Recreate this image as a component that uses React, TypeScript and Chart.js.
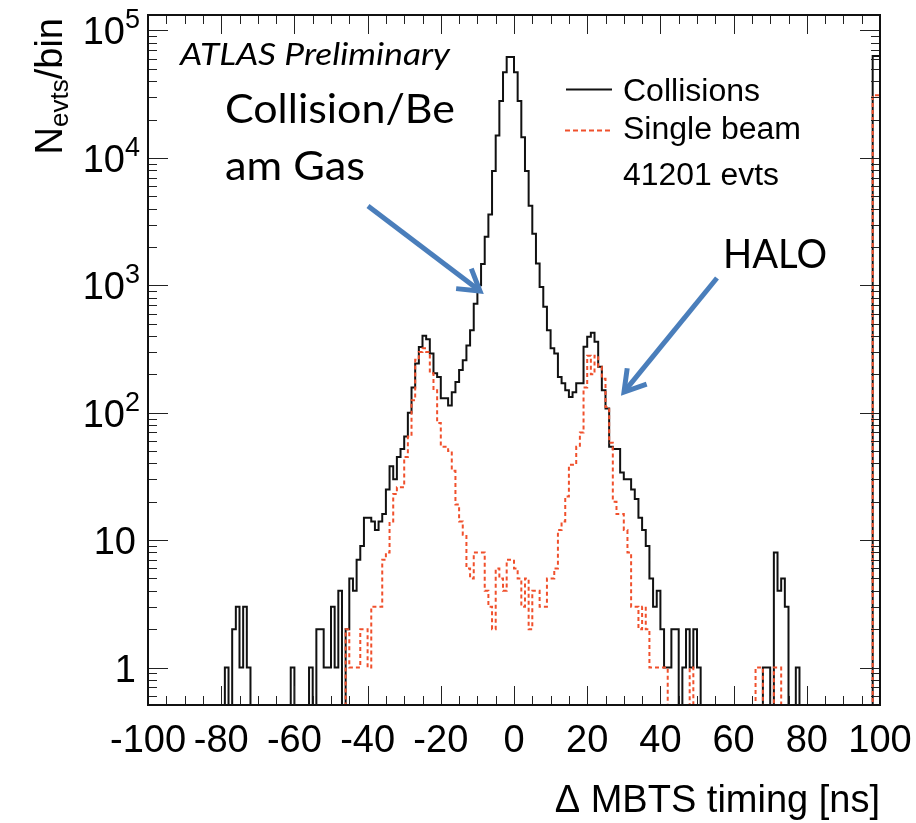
import { useEffect, useRef } from 'react';
import { Chart, registerables } from 'chart.js';

Chart.register(...registerables);

// ---------- data ----------
const X_MIN = -100;
const X_MAX = 100;
const BIN_WIDTH = 1; // ns
const Y_MIN = 0.508;
const Y_MAX = 1.323e5;

// Collisions: one value per 1 ns bin, from -100 ns to +100 ns
const collisions: number[] = [
  41000, 0, 0, 0, 0, 0, 0, 0, 0, 0, // -100..-91
  0, 0, 0, 0, 0, 0, 0, 0, 0, 0, // -90..-81
  0, 0, 1, 0, 2, 3, 1, 3, 1, 0, // -80..-71
  0, 0, 0, 0, 0, 0, 0, 0, 0, 0, // -70..-61
  1, 0, 0, 0, 0, 1, 0, 2, 2, 1, // -60..-51
  1, 3, 1, 4, 0, 2, 5, 4, 7, 9, // -50..-41
  15, 15, 14, 12, 14, 16, 25, 38, 30, 45, // -40..-31
  52, 65, 100, 158, 243, 328, 401, 377, 292, 204, // -30..-21
  191, 130, 130, 114, 145, 174, 216, 258, 337, 443, // -20..-11
  718, 1000, 1470, 2410, 3600, 7900, 15000, 28000, 47000, 62000, // -10..-1
  62000, 47000, 28000, 14500, 7900, 4220, 2540, 1480, 970, 680, // 0..9
  443, 320, 292, 191, 170, 150, 133, 145, 170, 170, // 10..19
  330, 394, 424, 360, 229, 150, 108, 54, 52, 52, // 20..29
  34, 30, 30, 25, 21, 15, 12, 9, 5, 3, // 30..39
  4, 2, 1, 1, 2, 2, 0, 1, 2, 1, // 40..49
  2, 1, 0, 0, 0, 0, 0, 0, 0, 0, // 50..59
  0, 0, 0, 0, 0, 0, 0, 0, 0, 1, // 60..69
  1, 0, 8, 4, 5, 3, 0, 0, 1, 0, // 70..79
  0, 0, 0, 0, 0, 0, 0, 0, 0, 0, // 80..89
  0, 0, 0, 0, 0, 0, 0, 0, 0, 63000, // 90..99
];

// Single beam: same binning
const singleBeam: number[] = [
  5900, 0, 0, 0, 0, 0, 0, 0, 0, 0, // -100..-91
  0, 0, 0, 0, 0, 0, 0, 0, 0, 0, // -90..-81
  0, 0, 0, 0, 0, 0, 0, 0, 0, 0, // -80..-71
  0, 0, 0, 0, 0, 0, 0, 0, 0, 0, // -70..-61
  0, 0, 0, 0, 0, 0, 0, 0, 0, 0, // -60..-51
  0, 0, 0, 0, 0, 2, 1, 1, 1, 2, // -50..-41
  2, 1, 3, 3, 3, 7, 8, 14, 23, 26, // -40..-31
  26, 45, 65, 125, 260, 300, 320, 300, 204, 150, // -30..-21
  83, 54, 54, 50, 35, 19, 14, 11, 6, 5, // -20..-11
  8, 8, 8, 4, 3, 2, 6, 5, 4, 7, // -10..-1
  7, 6, 5, 3, 5, 2, 4, 4, 3, 3, // 0..9
  5, 5, 6, 12, 14, 22, 39, 39, 54, 70, // 10..19
  158, 280, 200, 280, 229, 185, 111, 58, 20, 16, // 20..29
  16, 12, 8, 3, 3, 2, 3, 2, 1, 1, // 30..39
  1, 1, 1, 0, 0, 0, 0, 0, 0, 1, // 40..49
  0, 0, 0, 0, 0, 0, 0, 0, 0, 0, // 50..59
  0, 0, 0, 0, 0, 0, 0, 1, 1, 0, // 60..69
  0, 0, 1, 1, 0, 0, 0, 0, 0, 0, // 70..79
  0, 0, 0, 0, 0, 0, 0, 0, 0, 0, // 80..89
  0, 0, 0, 0, 0, 0, 0, 0, 0, 31000, // 90..99
];

const xTickValues = [-100, -80, -60, -40, -20, 0, 20, 40, 60, 80, 100];
const yTickExponents = [0, 1, 2, 3, 4, 5];
const seriesNames = ['Collisions', 'Single beam'];
const eventNote = '41201 evts';
const xTitle = '\u0394 MBTS timing [ns]';
const yTitleMain = 'N';
const yTitleSub = 'evts';
const yTitleTail = '/bin';
const atlasLabel = 'ATLAS Preliminary';
const noteBeamGas = ['Collision/Be', 'am Gas'];
const noteHalo = 'HALO';

// ---------- styles ----------
const BLACK = '#111111';
const RED = '#f0502c';
const BLUE = '#4a7ebb';
const ROOT_FONT = '"Liberation Sans", Arial, Helvetica, sans-serif';
const PPT_FONT = 'Lato, "Open Sans", sans-serif';

function toSteps(vals: number[]) {
  const pts = vals.map((v, i) => ({ x: X_MIN + i * BIN_WIDTH, y: v > 0 ? v : Y_MIN }));
  pts.push({ x: X_MAX, y: pts[pts.length - 1].y });
  return pts;
}

function fitText(ctx: CanvasRenderingContext2D, text: string, x: number, y: number, font: string, width: number) {
  ctx.save();
  ctx.font = font;
  const w = ctx.measureText(text).width;
  ctx.translate(x, y);
  ctx.scale(width / w, 1);
  ctx.textAlign = 'left';
  ctx.textBaseline = 'alphabetic';
  ctx.fillText(text, 0, 0);
  ctx.restore();
}

function drawArrow(ctx: CanvasRenderingContext2D, x1: number, y1: number, x2: number, y2: number) {
  const ang = Math.atan2(y2 - y1, x2 - x1);
  const head = 24;
  const spread = 0.55;
  ctx.save();
  ctx.strokeStyle = BLUE;
  ctx.lineWidth = 5;
  ctx.lineCap = 'butt';
  ctx.lineJoin = 'miter';
  ctx.beginPath();
  ctx.moveTo(x1, y1);
  ctx.lineTo(x2 - Math.cos(ang) * 2, y2 - Math.sin(ang) * 2);
  ctx.stroke();
  ctx.beginPath();
  ctx.moveTo(x2 - head * Math.cos(ang - spread), y2 - head * Math.sin(ang - spread));
  ctx.lineTo(x2, y2);
  ctx.lineTo(x2 - head * Math.cos(ang + spread), y2 - head * Math.sin(ang + spread));
  ctx.stroke();
  ctx.restore();
}

const decorPlugin = {
  id: 'decor',
  afterDatasetsDraw(chart: any) {
    const ctx: CanvasRenderingContext2D = chart.ctx;
    const a = chart.chartArea;
    const xs = chart.scales.x;
    const ys = chart.scales.y;
    ctx.save();

    // ticks (inside, all four sides)
    ctx.strokeStyle = '#222';
    ctx.lineWidth = 1;
    ctx.beginPath();
    for (let v = X_MIN; v <= X_MAX; v += 5) {
      const px = Math.round(xs.getPixelForValue(v)) + 0.5;
      const len = v % 20 === 0 ? 19 : 9;
      ctx.moveTo(px, a.bottom);
      ctx.lineTo(px, a.bottom - len);
      ctx.moveTo(px, a.top);
      ctx.lineTo(px, a.top + len);
    }
    for (let e = -1; e <= 5; e++) {
      for (let m = 1; m <= 9; m++) {
        const v = m * Math.pow(10, e);
        if (v < Y_MIN || v > Y_MAX) continue;
        const py = Math.round(ys.getPixelForValue(v)) + 0.5;
        const len = m === 1 ? 20 : 9;
        ctx.moveTo(a.left, py);
        ctx.lineTo(a.left + len, py);
        ctx.moveTo(a.right, py);
        ctx.lineTo(a.right - len, py);
      }
    }
    ctx.stroke();

    // frame
    ctx.strokeStyle = BLACK;
    ctx.lineWidth = 2;
    ctx.strokeRect(a.left, a.top, a.right - a.left, a.bottom - a.top);

    // x tick labels
    ctx.fillStyle = '#000';
    ctx.font = `38px ${ROOT_FONT}`;
    ctx.textAlign = 'center';
    ctx.textBaseline = 'alphabetic';
    for (const v of xTickValues) {
      ctx.fillText(String(v), xs.getPixelForValue(v), 752);
    }

    // y tick labels
    for (const e of yTickExponents) {
      const py = ys.getPixelForValue(Math.pow(10, e));
      const xr = a.left - 12;
      ctx.textAlign = 'right';
      if (e === 0) {
        ctx.font = `38px ${ROOT_FONT}`;
        ctx.fillText('1', xr, py + 14);
      } else if (e === 1) {
        ctx.font = `38px ${ROOT_FONT}`;
        ctx.fillText('10', xr, py + 14);
      } else {
        ctx.font = `27px ${ROOT_FONT}`;
        const es = String(e);
        const ew = ctx.measureText(es).width;
        ctx.fillText(es, xr + 4, py - 2);
        ctx.font = `38px ${ROOT_FONT}`;
        ctx.fillText('10', xr + 4 - ew, py + 14);
      }
    }

    // axis titles
    ctx.textAlign = 'right';
    ctx.font = `38px ${ROOT_FONT}`;
    ctx.fillText(xTitle, a.right, 812);

    ctx.save();
    ctx.translate(62, 18);
    ctx.rotate(-Math.PI / 2);
    ctx.textAlign = 'left';
    ctx.font = `38px ${ROOT_FONT}`;
    const wN = ctx.measureText(yTitleMain).width;
    ctx.font = `26px ${ROOT_FONT}`;
    const wS = ctx.measureText(yTitleSub).width;
    ctx.font = `38px ${ROOT_FONT}`;
    const wT = ctx.measureText(yTitleTail).width;
    const total = wN + wS + wT;
    let cx = -total;
    ctx.fillText(yTitleMain, cx, 0);
    cx += wN;
    ctx.font = `26px ${ROOT_FONT}`;
    ctx.fillText(yTitleSub, cx, 6);
    cx += wS;
    ctx.font = `38px ${ROOT_FONT}`;
    ctx.fillText(yTitleTail, cx, 0);
    ctx.restore();

    // legend
    ctx.strokeStyle = BLACK;
    ctx.lineWidth = 2;
    ctx.setLineDash([]);
    ctx.beginPath();
    ctx.moveTo(566, 89.5);
    ctx.lineTo(612, 89.5);
    ctx.stroke();
    ctx.strokeStyle = RED;
    ctx.setLineDash([5, 3]);
    ctx.beginPath();
    ctx.moveTo(565, 130.5);
    ctx.lineTo(611, 130.5);
    ctx.stroke();
    ctx.setLineDash([]);
    ctx.fillStyle = '#000';
    fitText(ctx, seriesNames[0], 623, 101, `31px ${ROOT_FONT}`, 137);
    fitText(ctx, seriesNames[1], 623, 139, `31px ${ROOT_FONT}`, 178);
    fitText(ctx, eventNote, 623, 185, `31px ${ROOT_FONT}`, 156);

    // presentation annotations
    fitText(ctx, atlasLabel, 180, 65, `italic 31px ${PPT_FONT}`, 270);
    fitText(ctx, noteBeamGas[0], 225, 123, `40px ${PPT_FONT}`, 230);
    fitText(ctx, noteBeamGas[1], 225, 180, `40px ${PPT_FONT}`, 140);
    fitText(ctx, noteHalo, 723, 268, `41px ${PPT_FONT}`, 104);

    drawArrow(ctx, 368, 206, 480, 291);
    drawArrow(ctx, 717, 278, 624, 392);

    ctx.restore();
  },
};

export default function App() {
  const canvasRef = useRef<HTMLCanvasElement | null>(null);

  useEffect(() => {
    const canvas = canvasRef.current;
    if (!canvas) return;
    const chart = new Chart(canvas, {
      type: 'line',
      data: {
        datasets: [
          {
            label: seriesNames[1],
            data: toSteps(singleBeam),
            borderColor: RED,
            borderWidth: 2,
            borderDash: [4, 3],
            stepped: 'after',
            pointRadius: 0,
            fill: false,
            order: 0,
          },
          {
            label: seriesNames[0],
            data: toSteps(collisions),
            borderColor: BLACK,
            borderWidth: 2,
            stepped: 'after',
            pointRadius: 0,
            fill: false,
            order: 1,
          },
        ],
      },
      options: {
        animation: false,
        responsive: false,
        devicePixelRatio: 1,
        layout: { padding: { left: 148, top: 15, right: 36, bottom: 118 } },
        scales: {
          x: { type: 'linear', min: X_MIN, max: X_MAX, display: false },
          y: { type: 'logarithmic', min: Y_MIN, max: Y_MAX, display: false },
        },
        plugins: { legend: { display: false }, tooltip: { enabled: false } },
        events: [],
      },
      plugins: [decorPlugin],
    });
    return () => chart.destroy();
  }, []);

  return (
    <div style={{ position: 'absolute', left: 0, top: 0, width: 916, height: 823, background: '#fff' }}>
      <canvas ref={canvasRef} width={916} height={823} style={{ display: 'block' }} />
    </div>
  );
}
